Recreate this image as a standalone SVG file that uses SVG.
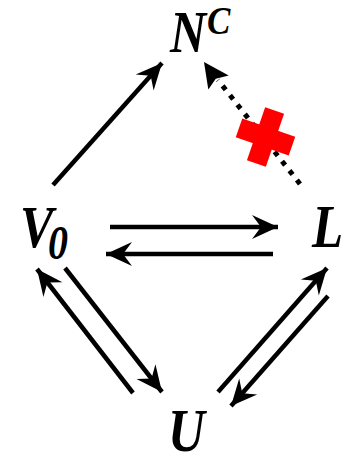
<svg xmlns="http://www.w3.org/2000/svg" width="349" height="452" viewBox="0 0 349 452">
<style>
.lbl{font-family:"Liberation Serif","Times New Roman",serif;font-weight:bold;font-style:italic;fill:#000}
.arr{stroke:#000;stroke-width:4.5;fill:none;marker-end:url(#ah)}
.dot{stroke:#000;stroke-width:5;fill:none;stroke-dasharray:5 7}
</style>
<defs>
<marker id="ah" markerUnits="userSpaceOnUse" markerWidth="30" markerHeight="30" viewBox="-28 -15 30 30" refX="0" refY="0" orient="auto" overflow="visible">
<path d="M0,0 L-26,-12 L-17,0 L-26,12 Z" fill="#000"/>
</marker>
</defs>
<g id="nodes">
<g id="NC"><text class="lbl" transform="translate(170,52) scale(1,1.2)" font-size="50">N</text><text class="lbl" transform="translate(207,34) scale(1,1.15)" font-size="35">C</text></g>
<g id="V0"><text class="lbl" transform="translate(20,247) scale(1,1.2)" font-size="50">V</text><text class="lbl" transform="translate(48,259) scale(1,1.2)" font-size="40">0</text></g>
<g id="L"><text class="lbl" transform="translate(312,247) scale(1,1.2)" font-size="51">L</text></g>
<g id="U"><text class="lbl" transform="translate(168,451) scale(1,1.2)" font-size="51">U</text></g>
</g>
<g id="connectors">
<line class="arr" x1="53" y1="185" x2="162" y2="63"/>
<line class="dot" x1="300" y1="184" x2="218" y2="80"/>
<path d="M204,62 L208.3,89.6 L215.8,78.7 L228.7,75.4 Z" fill="#000"/>
<line class="arr" x1="110" y1="227" x2="278" y2="227"/>
<line class="arr" x1="273" y1="254" x2="106" y2="254"/>
<line class="arr" x1="65" y1="268" x2="162" y2="392"/>
<line class="arr" x1="133" y1="393" x2="37" y2="269"/>
<line class="arr" x1="218" y1="392" x2="327" y2="268"/>
<line class="arr" x1="328" y1="296" x2="231" y2="406"/>
</g>
<g id="cross" transform="translate(265.5,137) rotate(19)">
<rect x="-28" y="-10" width="56" height="20" fill="#ff0000"/>
<rect x="-10" y="-28" width="20" height="56" fill="#ff0000"/>
</g>
</svg>
